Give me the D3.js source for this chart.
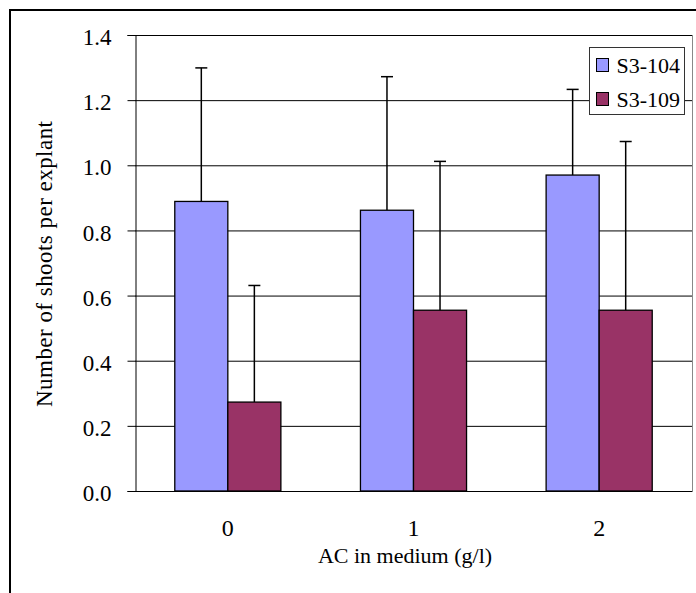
<!DOCTYPE html>
<html><head><meta charset="utf-8">
<script src="https://cdn.jsdelivr.net/npm/d3@7"></script>
<style>body{margin:0;background:#fff}</style>
</head><body><svg id="c" width="696" height="593" style="display:block"></svg>
<script>
const categories = ["0","1","2"];
const seriesNames = ["S3-104","S3-109"];
const s104 = [0.889, 0.862, 0.970];
const s109 = [0.273, 0.555, 0.555];
const s104Err = [0.410, 0.410, 0.263];
const s109Err = [0.358, 0.457, 0.518];
const yTicks = [0,0.2,0.4,0.6,0.8,1.0,1.2,1.4];
const colors = ["#9999FF","#993366"];
const FONT = "Liberation Serif";

const svg = d3.select("#c");
const L=135, R=692, T=35, B=491;
svg.append("rect").attr("x",10).attr("y",10).attr("width",720).attr("height",620)
  .attr("fill","#fff").attr("stroke","#000").attr("stroke-width",2);

const x0 = d3.scaleBand().domain(categories).range([L,R]).paddingInner(0).paddingOuter(0);
const y = d3.scaleLinear().domain([0,1.4]).range([B,T]);
const bw = x0.bandwidth()/3.5;
const x1 = d3.scaleBand().domain(seriesNames).range([0.75*bw, 2.75*bw]);

svg.append("g").selectAll("line").data(yTicks).join("line")
  .attr("x1",L).attr("x2",R).attr("y1",d=>y(d)+0.5).attr("y2",d=>y(d)+0.5)
  .attr("stroke","#000").attr("stroke-width",1);
svg.append("line").attr("x1",R+0.5).attr("x2",R+0.5).attr("y1",T).attr("y2",B)
  .attr("stroke","#888").attr("stroke-width",1);

const data = categories.map((c,i)=>({c, vals:[
  {s:seriesNames[0], v:s104[i], e:s104Err[i], col:colors[0]},
  {s:seriesNames[1], v:s109[i], e:s109Err[i], col:colors[1]}]}));

const g = svg.append("g").selectAll("g").data(data).join("g")
  .attr("transform",d=>`translate(${x0(d.c)},0)`);
g.selectAll("g.err").data(d=>d.vals).join("g").attr("class","err").each(function(d){
  const cx = x1(d.s)+x1.bandwidth()/2;
  const sel = d3.select(this);
  sel.append("line").attr("x1",cx).attr("x2",cx).attr("y1",y(d.v)).attr("y2",y(d.v+d.e))
    .attr("stroke","#000").attr("stroke-width",1.5);
  sel.append("line").attr("x1",cx-6).attr("x2",cx+6).attr("y1",y(d.v+d.e)).attr("y2",y(d.v+d.e))
    .attr("stroke","#000").attr("stroke-width",1.5);
});
g.selectAll("rect").data(d=>d.vals).join("rect")
  .attr("x",d=>x1(d.s)).attr("width",x1.bandwidth())
  .attr("y",d=>y(d.v)).attr("height",d=>B-y(d.v))
  .attr("fill",d=>d.col).attr("stroke","#000").attr("stroke-width",1.3);

const ya = d3.axisLeft(y).tickValues(yTicks).tickFormat(d3.format(".1f")).tickSize(8).tickPadding(16);
const yg = svg.append("g").attr("transform",`translate(${L+0.5},0)`).call(ya)
  .attr("font-family",FONT).attr("font-size",23);
yg.select(".domain").attr("stroke","#000");
yg.selectAll(".tick line").attr("stroke","#000");
yg.selectAll("text").attr("fill","#000").attr("dy","0.42em");

const xa = d3.axisBottom(x0).tickSize(0).tickPadding(28);
const xg = svg.append("g").attr("transform",`translate(0,${B})`).call(xa)
  .attr("font-family",FONT).attr("font-size",24);
xg.select(".domain").attr("stroke","#000");
xg.selectAll("text").attr("fill","#000");

svg.append("text").attr("x",405).attr("y",563).attr("text-anchor","middle")
  .attr("font-family",FONT).attr("font-size",22).text("AC in medium (g/l)");
svg.append("text").attr("transform","translate(52,264) rotate(-90)").attr("text-anchor","middle")
  .attr("font-family",FONT).attr("font-size",23).attr("textLength",286).attr("lengthAdjust","spacing")
  .text("Number of shoots per explant");

const lg = svg.append("g").attr("transform","translate(589.5,47.5)");
lg.append("rect").attr("width",95).attr("height",67).attr("fill","#fff").attr("stroke","#333").attr("stroke-width",1);
seriesNames.forEach((s,i)=>{
  lg.append("rect").attr("x",7).attr("y",11+i*34).attr("width",12).attr("height",13)
    .attr("fill",colors[i]).attr("stroke","#000").attr("stroke-width",1);
  lg.append("text").attr("x",27).attr("y",25+i*34).attr("font-family",FONT).attr("font-size",22).text(s);
});
</script></body></html>
